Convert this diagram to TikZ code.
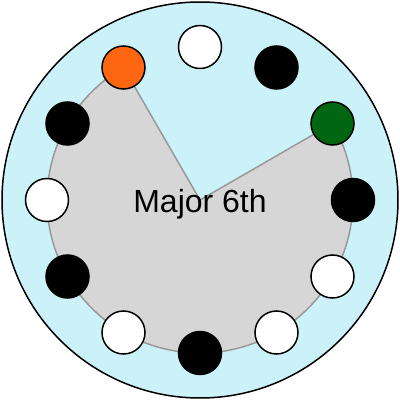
\documentclass[tikz,border=0pt]{standalone}
\usepackage{fontspec}
\setmainfont{Liberation Sans}
\usetikzlibrary{calc}
\definecolor{bgcyan}{HTML}{CCF2F9}
\definecolor{wedgegray}{HTML}{D6D6D6}
\definecolor{wedgeline}{HTML}{999999}
\definecolor{noteorange}{HTML}{FF6611}
\definecolor{notegreen}{HTML}{006611}
\begin{document}
\begin{tikzpicture}[x=1pt,y=1pt,
  note/.style={circle, draw=black, line width=1.5pt, minimum size=43pt, inner sep=0pt},
  wht/.style={note, fill=white},
  blk/.style={note, fill=black},
  org/.style={note, fill=noteorange},
  grn/.style={note, fill=notegreen}]
\useasboundingbox (0,0) rectangle (400,400);
\coordinate (c) at (200,200);
\node[circle, draw=black, fill=bgcyan, line width=1.5pt, minimum size=396pt, inner sep=0pt] (outer) at (c) {};
\coordinate (a0) at ($(c)+(120:153)$);
\fill[wedgegray, draw=wedgeline, line width=1.5pt] (c) -- (a0) arc[start angle=120, end angle=390, radius=153] -- cycle;
\node[wht] (p0) at ($(c)+(90:153)$) {};
\node[blk] (p1) at ($(c)+(60:153)$) {};
\node[grn] (p2) at ($(c)+(30:153)$) {};
\node[blk] (p3) at ($(c)+(0:153)$) {};
\node[wht] (p4) at ($(c)+(-30:153)$) {};
\node[wht] (p5) at ($(c)+(-60:153)$) {};
\node[blk] (p6) at ($(c)+(-90:153)$) {};
\node[wht] (p7) at ($(c)+(-120:153)$) {};
\node[blk] (p8) at ($(c)+(-150:153)$) {};
\node[wht] (p9) at ($(c)+(180:153)$) {};
\node[blk] (p10) at ($(c)+(150:153)$) {};
\node[org] (p11) at ($(c)+(120:153)$) {};
\node[anchor=base, inner sep=0pt, font=\fontsize{32}{38}\selectfont] (label) at (200,187.5) {Major 6th};
\end{tikzpicture}
\end{document}
